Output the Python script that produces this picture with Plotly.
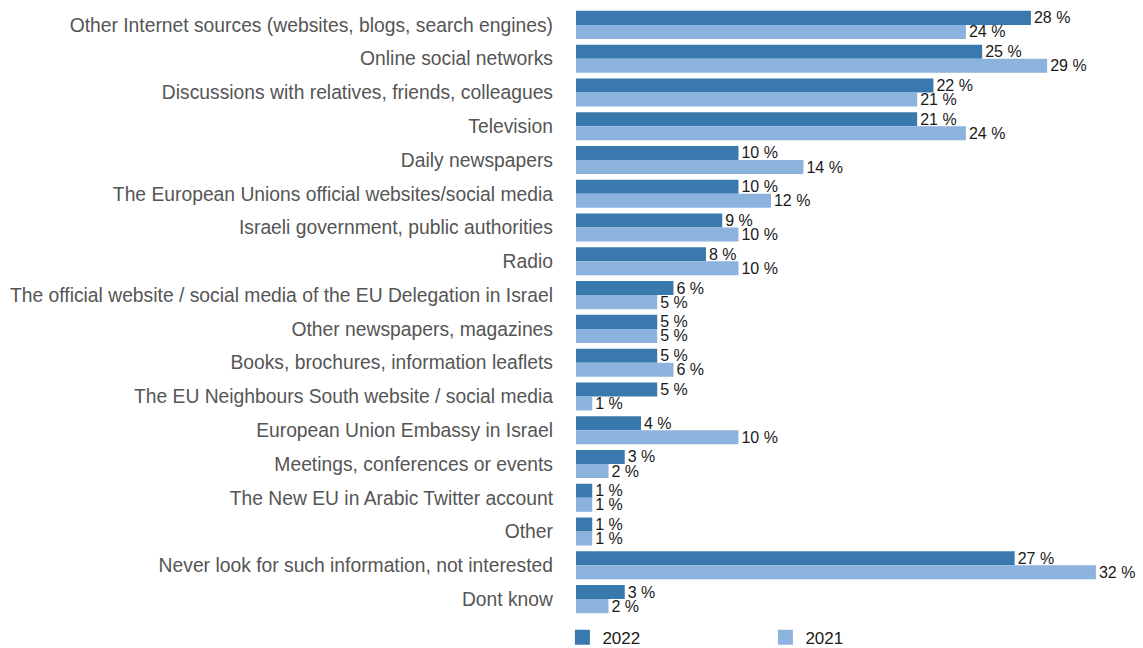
import plotly.graph_objects as go

# Sources of information about the European Union (share of respondents, %)
categories = [
    "Other Internet sources (websites, blogs, search engines)",
    "Online social networks",
    "Discussions with relatives, friends, colleagues",
    "Television",
    "Daily newspapers",
    "The European Unions official websites/social media",
    "Israeli government, public authorities",
    "Radio",
    "The official website / social media of the EU Delegation in Israel",
    "Other newspapers, magazines",
    "Books, brochures, information leaflets",
    "The EU Neighbours South website / social media",
    "European Union Embassy in Israel",
    "Meetings, conferences or events",
    "The New EU in Arabic Twitter account",
    "Other",
    "Never look for such information, not interested",
    "Dont know",
]
values_2022 = [28, 25, 22, 21, 10, 10, 9, 8, 6, 5, 5, 5, 4, 3, 1, 1, 27, 3]
values_2021 = [24, 29, 21, 24, 14, 12, 10, 10, 5, 5, 6, 1, 10, 2, 1, 1, 32, 2]

DARK = "#3979AE"
LIGHT = "#8CB2DE"
FONT = "Liberation Sans"

fig = go.Figure()
for name, vals, color in [("2022", values_2022, DARK), ("2021", values_2021, LIGHT)]:
    fig.add_trace(go.Bar(
        y=categories, x=vals, name=name, orientation="h",
        marker=dict(color=color, line=dict(width=0)),
        texttemplate="%{x} %", textposition="outside",
        textfont=dict(family=FONT, size=16, color="#1a1a1a"),
        constraintext="none", cliponaxis=False, showlegend=False,
    ))
    # legend entry with a larger square swatch
    fig.add_trace(go.Scatter(
        x=[None], y=[None], mode="markers", name=name,
        marker=dict(symbol="square", size=15, color=color, line=dict(width=0)),
        showlegend=True, hoverinfo="skip",
    ))

fig.update_layout(
    width=1143, height=648,
    margin=dict(l=576, r=0, t=8, b=32),
    barmode="group", bargap=0.17, bargroupgap=0,
    plot_bgcolor="white", paper_bgcolor="white",
    font=dict(family=FONT),
    showlegend=True,
    legend=dict(
        orientation="h", x=-0.024, xanchor="left",
        yref="container", y=0.016, yanchor="middle",
        entrywidth=158, entrywidthmode="pixels",
        itemsizing="trace",
        font=dict(family=FONT, size=17, color="#1a1a1a"),
        traceorder="normal",
    ),
    xaxis=dict(range=[0, 34.9], visible=False, showgrid=False, zeroline=False),
    yaxis=dict(
        autorange="reversed", showgrid=False, zeroline=False, showline=False,
        ticks="", ticklabelstandoff=22,
        tickfont=dict(family=FONT, size=19.3, color="#555555"),
    ),
)

fig.write_html("out.html")
